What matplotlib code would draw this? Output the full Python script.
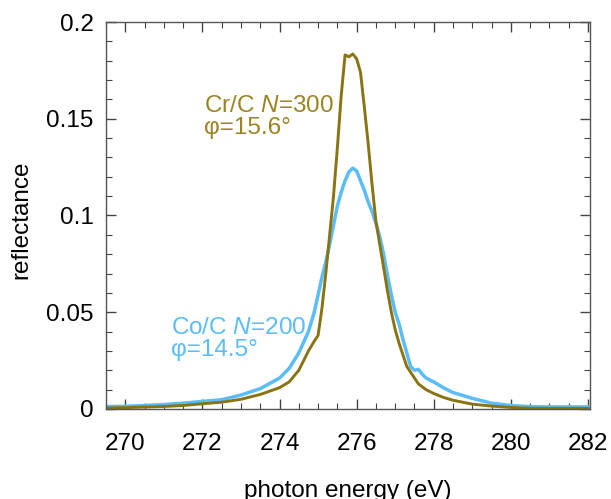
import numpy as np
import matplotlib.pyplot as plt
from matplotlib.ticker import FixedLocator, MultipleLocator

plt.rcParams['font.family'] = ['Liberation Sans', 'DejaVu Sans']
plt.rcParams['mathtext.fontset'] = 'custom'
plt.rcParams['mathtext.it'] = 'Liberation Sans:italic'
plt.rcParams['mathtext.rm'] = 'Liberation Sans'

# photon energy grid (eV)
energy = [269.5, 270, 270.5, 271, 271.5, 272, 272.5, 273, 273.5, 274, 274.25,
          274.5, 274.75, 274.9, 275.0, 275.1, 275.2, 275.3, 275.4, 275.5, 275.6,
          275.7, 275.8, 275.9, 276.0, 276.1, 276.2, 276.3, 276.4, 276.5, 276.6,
          276.7, 276.8, 276.9, 277.0, 277.1, 277.2, 277.3, 277.4, 277.5, 277.6,
          277.7, 277.8, 278.0, 278.25, 278.5, 279.0, 279.5, 280.0, 280.5, 281,
          281.5, 282]

# Cr/C N=300 reflectance
cr_c = [0.0005, 0.0007, 0.001, 0.0013, 0.0018, 0.0027, 0.0035, 0.005, 0.0075, 0.011, 0.014,
        0.020, 0.030, 0.035, 0.038, 0.052, 0.070, 0.090, 0.110, 0.135, 0.162,
        0.183, 0.182, 0.1835, 0.181, 0.174, 0.156, 0.137, 0.116, 0.097, 0.085,
        0.073, 0.061, 0.050, 0.041, 0.034, 0.028, 0.022, 0.019, 0.016, 0.013,
        0.0115, 0.010, 0.008, 0.006, 0.0045, 0.0025, 0.0015, 0.0008, 0.0004, 0.0003,
        0.0003, 0.0003]

# Co/C N=200 reflectance
co_c = [0.0012, 0.0014, 0.0018, 0.0023, 0.003, 0.0039, 0.0048, 0.0072, 0.0105, 0.016, 0.021,
        0.029, 0.040, 0.050, 0.059, 0.068, 0.076, 0.085, 0.095, 0.105, 0.112,
        0.118, 0.1225, 0.1245, 0.123, 0.118, 0.113, 0.107, 0.102, 0.096, 0.089,
        0.080, 0.069, 0.059, 0.050, 0.044, 0.036, 0.029, 0.022, 0.020, 0.0205,
        0.018, 0.016, 0.014, 0.011, 0.0085, 0.0055, 0.003, 0.0018, 0.0012, 0.0011,
        0.0011, 0.0011]

olive = '#8a7412'
olive_text = '#9a8424'
blue = '#5bbdf7'
fs = 17.5

fig = plt.figure(figsize=(6.11, 4.99), dpi=100)
ax = fig.add_axes([0.1735, 0.1804, 0.792, 0.7755])

ax.plot(energy, co_c, color=blue, lw=2.5)
ax.plot(energy, cr_c, color=olive, lw=2.1)

ax.text(272.03, 0.1566, r'Cr/C $\mathit{N}$=300', color=olive_text, fontsize=fs, va='center')
ax.text(272.03, 0.1452, '\u03c6=15.6\u00b0', color=olive_text, fontsize=fs, va='center')
ax.text(271.19, 0.0419, r'Co/C $\mathit{N}$=200', color=blue, fontsize=fs, va='center')
ax.text(271.19, 0.0305, '\u03c6=14.5\u00b0', color=blue, fontsize=fs, va='center')

ax.set_xlim(269.5, 282.05)
ax.set_ylim(0, 0.2)
ax.xaxis.set_major_locator(FixedLocator([270, 272, 274, 276, 278, 280, 282]))
ax.xaxis.set_minor_locator(MultipleLocator(0.5))
ax.yaxis.set_major_locator(FixedLocator([0, 0.05, 0.1, 0.15, 0.2]))
ax.set_yticklabels(['0', '0.05', '0.1', '0.15', '0.2'])
ax.yaxis.set_minor_locator(MultipleLocator(0.01))
ax.tick_params(which='both', direction='in', top=True, right=True, labelsize=fs, color='#444444')
ax.tick_params(which='major', length=7, width=1)
ax.tick_params(which='minor', length=4, width=0.8)
ax.tick_params(axis='x', which='major', pad=17)
ax.tick_params(axis='y', which='major', pad=9)
for s in ax.spines.values():
    s.set_color('#555555')
    s.set_linewidth(1)

ax.set_xlabel('photon energy (eV)', fontsize=fs)
ax.set_ylabel('reflectance', fontsize=fs)
ax.xaxis.set_label_coords(0.5, -0.183)
ax.yaxis.set_label_coords(-0.153, 0.49)

fig.savefig('out.png', dpi=100)
